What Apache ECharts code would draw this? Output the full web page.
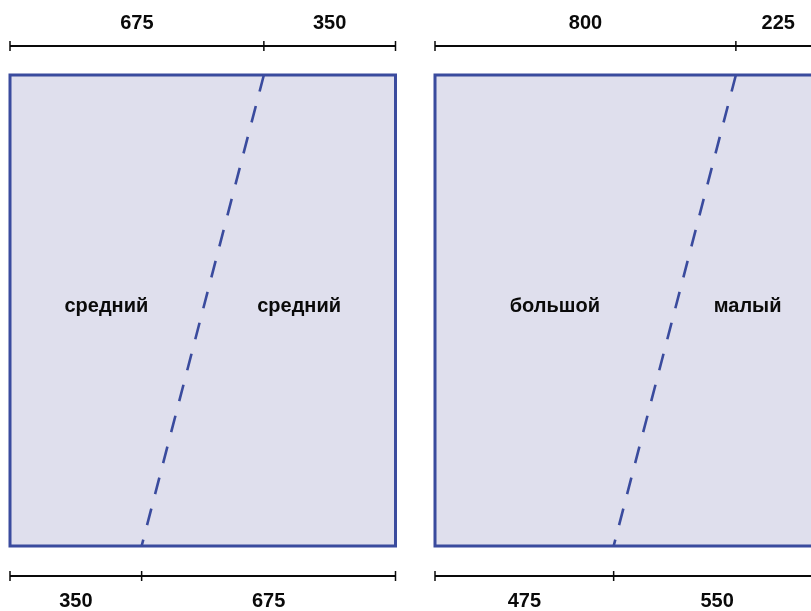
<!DOCTYPE html>
<html>
<head>
<meta charset="utf-8">
<style>
  html, body { margin: 0; padding: 0; background: #ffffff; overflow: hidden; width: 811px; height: 611px; }
  #chart { width: 830px; height: 611px; }
</style>
<script src="https://cdn.jsdelivr.net/npm/echarts@6/dist/echarts.min.js"></script>
</head>
<body>
<div id="chart"></div>
<script>
// ---- data ----
const panelTotal = [1025, 1025];
const topLeftValues = [675, 800];
const topRightValues = [350, 225];
const bottomLeftValues = [350, 475];
const bottomRightValues = [675, 550];
const leftRegionLabels = ['средний', 'большой'];
const rightRegionLabels = ['средний', 'малый'];

// ---- styles ----
const BORDER = '#3a4b9e';
const FILL = '#dfdfed';
const INK = '#0a0a0a';
const FONT = 'bold 20px "Liberation Sans", Arial, sans-serif';

const chart = echarts.init(document.getElementById('chart'), null, { renderer: 'canvas' });

const grids = [
  { left: 10, top: 75, width: 385.5, height: 471 },
  { left: 435, top: 75, width: 385.5, height: 471 }
];

function renderPanel(i) {
  return function (params, api) {
    const total = panelTotal[i];
    const tl = topLeftValues[i], tr = topRightValues[i];
    const bl = bottomLeftValues[i], br = bottomRightValues[i];
    const p00 = api.coord([0, 0]);
    const p11 = api.coord([total, 1]);
    const x0 = p00[0], x1 = p11[0];
    const yTop = p11[1], yBot = p00[1];
    const xTopSplit = api.coord([tl, 1])[0];
    const xBotSplit = api.coord([bl, 0])[0];
    const topBarY = yTop - 29;
    const botBarY = yBot + 30;
    const tick = 5;
    const lineStyle = { stroke: INK, lineWidth: 2 };
    const children = [];
    children.push({
      type: 'rect',
      shape: { x: x0, y: yTop, width: x1 - x0, height: yBot - yTop },
      style: { fill: FILL, stroke: BORDER, lineWidth: 3 }
    });
    children.push({
      type: 'line',
      shape: { x1: xTopSplit, y1: yTop, x2: xBotSplit, y2: yBot },
      style: { stroke: BORDER, lineWidth: 2.6, lineDash: [17, 15] }
    });
    function bracket(y, xs) {
      children.push({ type: 'line', shape: { x1: xs[0], y1: y, x2: xs[2], y2: y }, style: lineStyle });
      xs.forEach(function (x) {
        children.push({ type: 'line', shape: { x1: x, y1: y - tick, x2: x, y2: y + tick }, style: { stroke: INK, lineWidth: 1.5 } });
      });
    }
    bracket(topBarY, [x0, xTopSplit, x1]);
    bracket(botBarY, [x0, xBotSplit, x1]);
    function label(text, x, y) {
      children.push({
        type: 'text',
        style: { text: String(text), x: x, y: y, font: FONT, fill: INK, align: 'center', verticalAlign: 'middle' }
      });
    }
    label(tl, (x0 + xTopSplit) / 2, yTop - 52);
    label(tr, (xTopSplit + x1) / 2, yTop - 52);
    label(bl, (x0 + xBotSplit) / 2, yBot + 55);
    label(br, (xBotSplit + x1) / 2, yBot + 55);
    const yMid = api.coord([0, 0.5])[1] - 4;
    const leftMid = api.coord([(tl + bl) / 4, 0.5])[0];
    const rightMid = api.coord([((tl + bl) / 2 + total) / 2, 0.5])[0];
    label(leftRegionLabels[i], leftMid, yMid);
    label(rightRegionLabels[i], rightMid, yMid);
    return { type: 'group', children: children };
  };
}

const option = {
  animation: false,
  grid: grids,
  xAxis: grids.map(function (g, i) {
    return { type: 'value', gridIndex: i, min: 0, max: panelTotal[i], show: false };
  }),
  yAxis: grids.map(function (g, i) {
    return { type: 'value', gridIndex: i, min: 0, max: 1, show: false };
  }),
  series: grids.map(function (g, i) {
    return {
      type: 'custom',
      xAxisIndex: i,
      yAxisIndex: i,
      clip: false,
      silent: true,
      data: [[0, 0]],
      renderItem: renderPanel(i)
    };
  })
};

chart.setOption(option);
</script>
</body>
</html>
